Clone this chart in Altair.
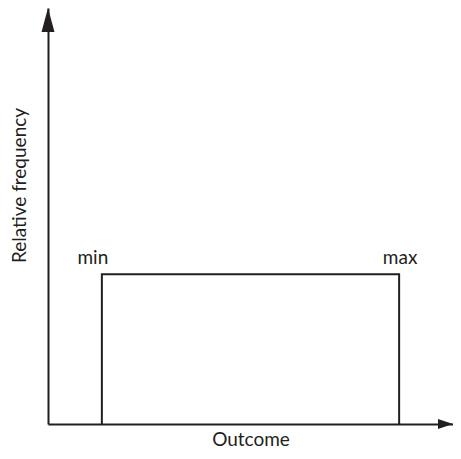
import altair as alt
import pandas as pd

# Uniform distribution sketch
outcome_min = 1.33
outcome_max = 8.67
rel_freq = 3.6
x_end = 10
y_end = 10
labels = ["min", "max"]

ink = "#231f20"
font = "Lato"
fs = 19

outline = pd.DataFrame({
    "x": [outcome_min, outcome_min, outcome_max, outcome_max],
    "y": [0, rel_freq, rel_freq, 0],
    "o": [0, 1, 2, 3],
})
lab = pd.DataFrame({"x": [outcome_min, outcome_max], "y": [rel_freq, rel_freq],
                    "t": labels})
yarrow = pd.DataFrame({"x": [0], "y": [y_end]})
xarrow = pd.DataFrame({"x": [x_end], "y": [0]})

xs = alt.Scale(domain=[0, x_end], nice=False, zero=False)
ys = alt.Scale(domain=[0, y_end], nice=False, zero=False)

xaxis = alt.Axis(title="Outcome", titlePadding=21, titleBaseline="alphabetic")
yaxis = alt.Axis(title="Relative frequency", titlePadding=19, titleY=177)

rect = alt.Chart(outline).mark_line(color=ink, strokeWidth=2, clip=False).encode(
    x=alt.X("x:Q", scale=xs, axis=xaxis),
    y=alt.Y("y:Q", scale=ys, axis=yaxis),
    order="o:Q",
)

t_min = alt.Chart(lab.iloc[[0]]).mark_text(font=font, fontSize=fs, color=ink, dy=-10, dx=-9,
                                           baseline="alphabetic").encode(
    x=alt.X("x:Q", scale=xs), y=alt.Y("y:Q", scale=ys), text="t:N")
t_max = alt.Chart(lab.iloc[[1]]).mark_text(font=font, fontSize=fs, color=ink, dy=-10, dx=1,
                                           baseline="alphabetic").encode(
    x=alt.X("x:Q", scale=xs), y=alt.Y("y:Q", scale=ys), text="t:N")

ya = alt.Chart(yarrow).mark_point(shape="M0,0L0.54,2L-0.54,2Z", size=576, filled=True,
                                  color=ink, opacity=1, strokeWidth=0).encode(
    x=alt.X("x:Q", scale=xs), y=alt.Y("y:Q", scale=ys))
xa = alt.Chart(xarrow).mark_point(shape="M0,0L-1.25,-0.42L-1.25,0.42Z", size=576, filled=True,
                                  color=ink, opacity=1, strokeWidth=0).encode(
    x=alt.X("x:Q", scale=xs), y=alt.Y("y:Q", scale=ys))

chart = alt.layer(rect, t_min, t_max, ya, xa).properties(
    width=405, height=416,
    background="white",
    autosize=alt.AutoSizeParams(type="none"),
    padding={"left": 40, "top": 0, "right": 0, "bottom": 27},
).configure_view(strokeWidth=0).configure_axis(
    labels=False, ticks=False, grid=False,
    domainColor=ink, domainWidth=2, domainOpacity=1,
    titleFont=font, titleFontSize=fs, titleFontWeight="normal", titleColor=ink,
)

chart.save("out.html", embed_options={"renderer": "svg", "actions": False})
